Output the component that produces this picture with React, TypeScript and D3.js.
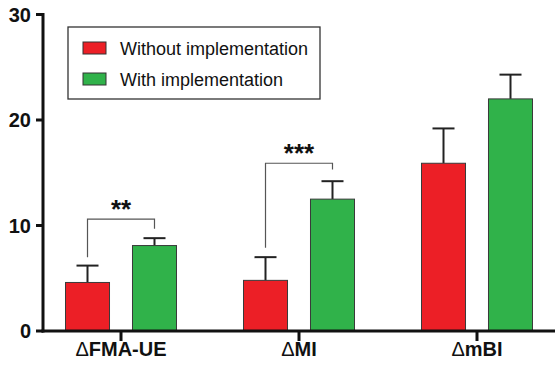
import React from "react";
import * as d3 from "d3";

const categories = ["FMA-UE", "MI", "mBI"];
const seriesNames = ["Without implementation", "With implementation"];
const withoutMean = [4.6, 4.8, 15.9];
const withoutErr = [1.6, 2.2, 3.3];
const withMean = [8.1, 12.5, 22.0];
const withErr = [0.7, 1.7, 2.3];
const yTicks = [0, 10, 20, 30];
// significance brackets: category, left foot, right foot, top, label
const brackets = [
  { cat: "FMA-UE", left: 7.0, right: 9.7, top: 10.6, label: "**" },
  { cat: "MI", left: 7.9, right: 15.3, top: 15.9, label: "***" },
];

const colors = ["#ec1f26", "#30b24a"];

export default function App() {
  const width = 555;
  const height = 371;

  const x = d3.scaleBand<string>().domain(categories).range([32, 566]).padding(0);
  const xs = d3
    .scaleBand<string>()
    .domain(seriesNames)
    .range([0, x.step()])
    .paddingInner(0.343)
    .paddingOuter(0.5);
  const y = d3.scaleLinear().domain([0, 30]).range([331, 14.5]);

  const means = [withoutMean, withMean];
  const errs = [withoutErr, withErr];
  const capW = xs.bandwidth() / 2;

  return (
    <svg
      width={width}
      height={height}
      style={{ position: "absolute", left: 0, top: 0, background: "#fff" }}
      fontFamily="Arial, 'Liberation Sans', sans-serif"
    >
      {/* bars + error bars */}
      {seriesNames.map((s, si) =>
        categories.map((c, ci) => {
          const x0 = (x(c) as number) + (xs(s) as number);
          const cx = x0 + xs.bandwidth() / 2;
          const v = means[si][ci];
          const e = v + errs[si][ci];
          return (
            <g key={s + c}>
              <line x1={cx} x2={cx} y1={y(v)} y2={y(e)} stroke="#222" strokeWidth={2} />
              <line x1={cx - capW / 2} x2={cx + capW / 2} y1={y(e)} y2={y(e)} stroke="#222" strokeWidth={2} />
              <rect
                x={x0}
                y={y(v)}
                width={xs.bandwidth()}
                height={y(0) - y(v)}
                fill={colors[si]}
                stroke="#3a3a3a"
                strokeWidth={1}
              />
            </g>
          );
        })
      )}

      {/* significance brackets */}
      {brackets.map((b) => {
        const lx = (x(b.cat) as number) + (xs(seriesNames[0]) as number) + xs.bandwidth() / 2;
        const rx = (x(b.cat) as number) + (xs(seriesNames[1]) as number) + xs.bandwidth() / 2;
        const path = `M${lx},${y(b.left)}V${y(b.top)}H${rx}V${y(b.right)}`;
        return (
          <g key={b.cat}>
            <path d={path} fill="none" stroke="#555" strokeWidth={1.2} />
            <text
              x={(lx + rx) / 2}
              y={y(b.top) - 1}
              textAnchor="middle"
              fontSize={26}
              fontWeight="bold"
              fill="#111"
            >
              {b.label}
            </text>
          </g>
        );
      })}

      {/* y axis */}
      <line x1={43} x2={43} y1={y(30) - 1.5} y2={y(0) + 1.5} stroke="#111" strokeWidth={3} />
      {yTicks.map((t) => (
        <g key={t}>
          <line x1={36} x2={43} y1={y(t)} y2={y(t)} stroke="#111" strokeWidth={3} />
          <text x={31} y={y(t)} dy="0.36em" textAnchor="end" fontSize={20} fontWeight="bold" fill="#111">
            {t}
          </text>
        </g>
      ))}

      {/* x axis */}
      <line x1={41.5} x2={555} y1={y(0)} y2={y(0)} stroke="#111" strokeWidth={3} />
      {categories.map((c) => {
        const cx = (x(c) as number) + x.bandwidth() / 2;
        return (
          <g key={c}>
            <line x1={cx} x2={cx} y1={y(0)} y2={y(0) + 10} stroke="#111" strokeWidth={3} />
            <text x={cx} y={356} textAnchor="middle" fontSize={20} fontWeight="bold" fill="#111">
              <tspan fontWeight="normal">Δ</tspan>
              {c}
            </text>
          </g>
        );
      })}

      {/* legend */}
      <rect x={68} y={27} width={252} height={72} fill="#fff" stroke="#333" strokeWidth={1.3} />
      {seriesNames.map((s, i) => (
        <g key={s} transform={`translate(0, ${i * 31})`}>
          <rect x={83} y={42} width={23} height={12} fill={colors[i]} stroke="#333" strokeWidth={1} />
          <text x={120} y={55} fontSize={18} fill="#111">
            {s}
          </text>
        </g>
      ))}
    </svg>
  );
}
